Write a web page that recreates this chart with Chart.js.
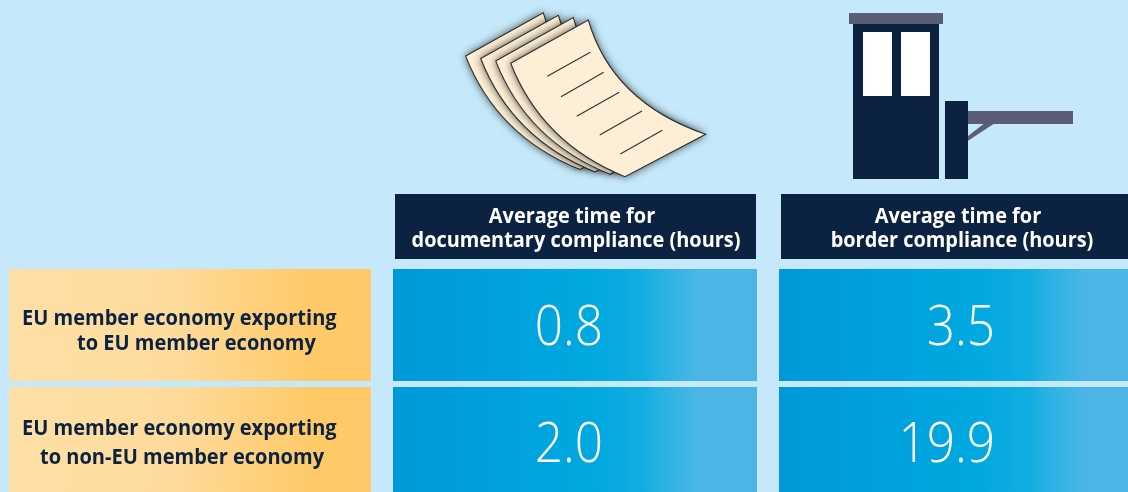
<!DOCTYPE html>
<html>
<head>
<meta charset="utf-8">
<script src="https://cdn.jsdelivr.net/npm/chart.js@4"></script>
<style>
  html, body { margin: 0; padding: 0; background: #c5e9fa; overflow: hidden; }
  #wrap { width: 1128px; height: 492px; overflow: hidden; }
  canvas { display: block; }
</style>
</head>
<body>
<div id="wrap"><canvas id="chart" width="1160" height="510"></canvas></div>
<script>
const columns = ['Average time for\ndocumentary compliance (hours)', 'Average time for\nborder compliance (hours)'];
const rows = ['EU member economy exporting\nto EU member economy', 'EU member economy exporting\nto non-EU member economy'];
const documentaryHours = [0.8, 2.0];
const borderHours = [3.5, 19.9];

const NAVY = '#0b2241';
const FONT = '"Open Sans"';

// text squeezed horizontally, the source face is narrower than anything installed
function put(ctx, str, x, y, font, color, align, squeeze) {
  ctx.save();
  ctx.font = font;
  ctx.fillStyle = color;
  ctx.textAlign = align;
  ctx.textBaseline = 'alphabetic';
  ctx.translate(x, y);
  ctx.scale(squeeze, 1);
  ctx.fillText(str, 0, 0);
  ctx.restore();
}

function drawPapers(ctx) {
  const sheet = [[510.7, 63.3], [588.3, 20], [705.7, 134.3], [625, 176.7]];
  const ctrlRight = [612, 102];
  const ctrlLeft = [542, 143.3];
  for (let i = 3; i >= 0; i--) {
    const dx = -15 * i, dy = -2.4 * i;
    ctx.save();
    ctx.translate(dx, dy);
    ctx.shadowColor = 'rgba(0,0,0,0.75)';
    ctx.shadowBlur = 8;
    ctx.beginPath();
    ctx.moveTo(sheet[0][0], sheet[0][1]);
    ctx.lineTo(sheet[1][0], sheet[1][1]);
    ctx.quadraticCurveTo(ctrlRight[0], ctrlRight[1], sheet[2][0], sheet[2][1]);
    ctx.lineTo(sheet[3][0], sheet[3][1]);
    ctx.quadraticCurveTo(ctrlLeft[0], ctrlLeft[1], sheet[0][0], sheet[0][1]);
    ctx.closePath();
    ctx.fillStyle = '#fdefd5';
    ctx.fill();
    ctx.shadowColor = 'transparent';
    ctx.strokeStyle = '#2f2f2f';
    ctx.lineWidth = 1.1;
    ctx.stroke();
    ctx.restore();
  }
  ctx.strokeStyle = '#333';
  ctx.lineWidth = 1.1;
  [[547.3, 76.3, 590.3, 52.3], [561, 96.7, 603.7, 72.3], [576.7, 116.3, 619.3, 92.3], [599.7, 135, 642, 111], [620.3, 154, 662.3, 130.3]].forEach(l => {
    ctx.beginPath();
    ctx.moveTo(l[0], l[1]);
    ctx.lineTo(l[2], l[3]);
    ctx.stroke();
  });
}

function drawBooth(ctx) {
  ctx.fillStyle = NAVY;
  ctx.fillRect(853, 24, 86, 155);
  ctx.fillRect(945, 101, 23, 78);
  ctx.fillStyle = '#5b5d74';
  ctx.fillRect(849, 13, 94, 11);
  ctx.fillRect(968, 111, 105, 13);
  ctx.beginPath();
  ctx.moveTo(968, 136);
  ctx.lineTo(983.5, 124);
  ctx.lineTo(993.5, 124);
  ctx.lineTo(968, 140.7);
  ctx.closePath();
  ctx.fill();
  ctx.fillStyle = '#fff';
  ctx.fillRect(863, 32, 29, 64);
  ctx.fillRect(901, 32, 29, 64);
}

const tablePlugin = {
  id: 'table',
  beforeDatasetsDraw(chart) {
    const ctx = chart.ctx;
    const { x: xs, y: ys } = chart.scales;
    drawPapers(ctx);
    drawBooth(ctx);

    // column headers
    columns.forEach((label, i) => {
      const cx = xs.getPixelForValue(i);
      const lines = label.split('\n');
      ctx.fillStyle = NAVY;
      ctx.fillRect(cx - 180, 194, 361, 65);
      put(ctx, lines[0], cx - 3, 222.5, '700 22px ' + FONT, '#fff', 'center', 0.905);
      put(ctx, lines[1], cx + 1, 246.5, '700 22px ' + FONT, '#fff', 'center', 0.905);
    });

    // row headers
    const indent = [77, 40];
    const baselines = [[325, 349.5], [435, 464]];
    rows.forEach((label, i) => {
      const cy = ys.getPixelForValue(i);
      const lines = label.split('\n');
      const g = ctx.createLinearGradient(9, 0, 371, 0);
      g.addColorStop(0, '#fedfa5');
      g.addColorStop(0.45, '#fedb9c');
      g.addColorStop(0.85, '#fec966');
      g.addColorStop(1, '#fec966');
      ctx.fillStyle = g;
      ctx.fillRect(9, cy - 56, 362, 112);
      put(ctx, lines[0], 22, baselines[i][0], '700 22px ' + FONT, NAVY, 'left', 0.91);
      put(ctx, lines[1], indent[i], baselines[i][1], '700 22px ' + FONT, NAVY, 'left', 0.91);
    });

    // value cells, positioned from the dataset points
    chart.data.datasets.forEach((ds, d) => {
      chart.getDatasetMeta(d).data.forEach(pt => {
        const left = pt.x - 182;
        const g = ctx.createLinearGradient(left, 0, left + 364, 0);
        g.addColorStop(0, '#0098d8');
        g.addColorStop(0.55, '#00a9e0');
        g.addColorStop(0.69, '#12ade2');
        g.addColorStop(0.725, '#24b1e3');
        g.addColorStop(0.84, '#4bb6e6');
        g.addColorStop(1, '#4bb6e6');
        ctx.fillStyle = g;
        ctx.fillRect(left, pt.y - 56, 364, 112);
      });
    });
  },
  afterDatasetsDraw(chart) {
    const ctx = chart.ctx;
    const rightEdge = [28, 34];
    const baselines = [344.5, 461.5];
    chart.data.datasets.forEach((ds, d) => {
      chart.getDatasetMeta(d).data.forEach((pt, i) => {
        put(ctx, ds.data[i].v.toFixed(1), pt.x + rightEdge[d], baselines[i], '300 55px ' + FONT, '#fff', 'right', 0.9);
      });
    });
  }
};

const toPoints = (values, col) => values.map((v, r) => ({ x: columns[col], y: rows[r], v: v }));

new Chart(document.getElementById('chart'), {
  type: 'line',
  data: {
    datasets: [
      { label: 'Documentary compliance', data: toPoints(documentaryHours, 0), showLine: false, pointRadius: 0 },
      { label: 'Border compliance', data: toPoints(borderHours, 1), showLine: false, pointRadius: 0 }
    ]
  },
  options: {
    responsive: false,
    animation: false,
    devicePixelRatio: 1,
    layout: { padding: { right: 6, bottom: 8 } },
    plugins: { legend: { display: false }, tooltip: { enabled: false } },
    scales: {
      x: {
        type: 'category', labels: columns, position: 'top', offset: true,
        grid: { display: false }, border: { display: false }, ticks: { display: false },
        afterFit: s => { s.height = 266; }
      },
      y: {
        type: 'category', labels: rows, offset: true,
        grid: { display: false }, border: { display: false }, ticks: { display: false },
        afterFit: s => { s.width = 382; }
      }
    }
  },
  plugins: [tablePlugin]
});
</script>
</body>
</html>
